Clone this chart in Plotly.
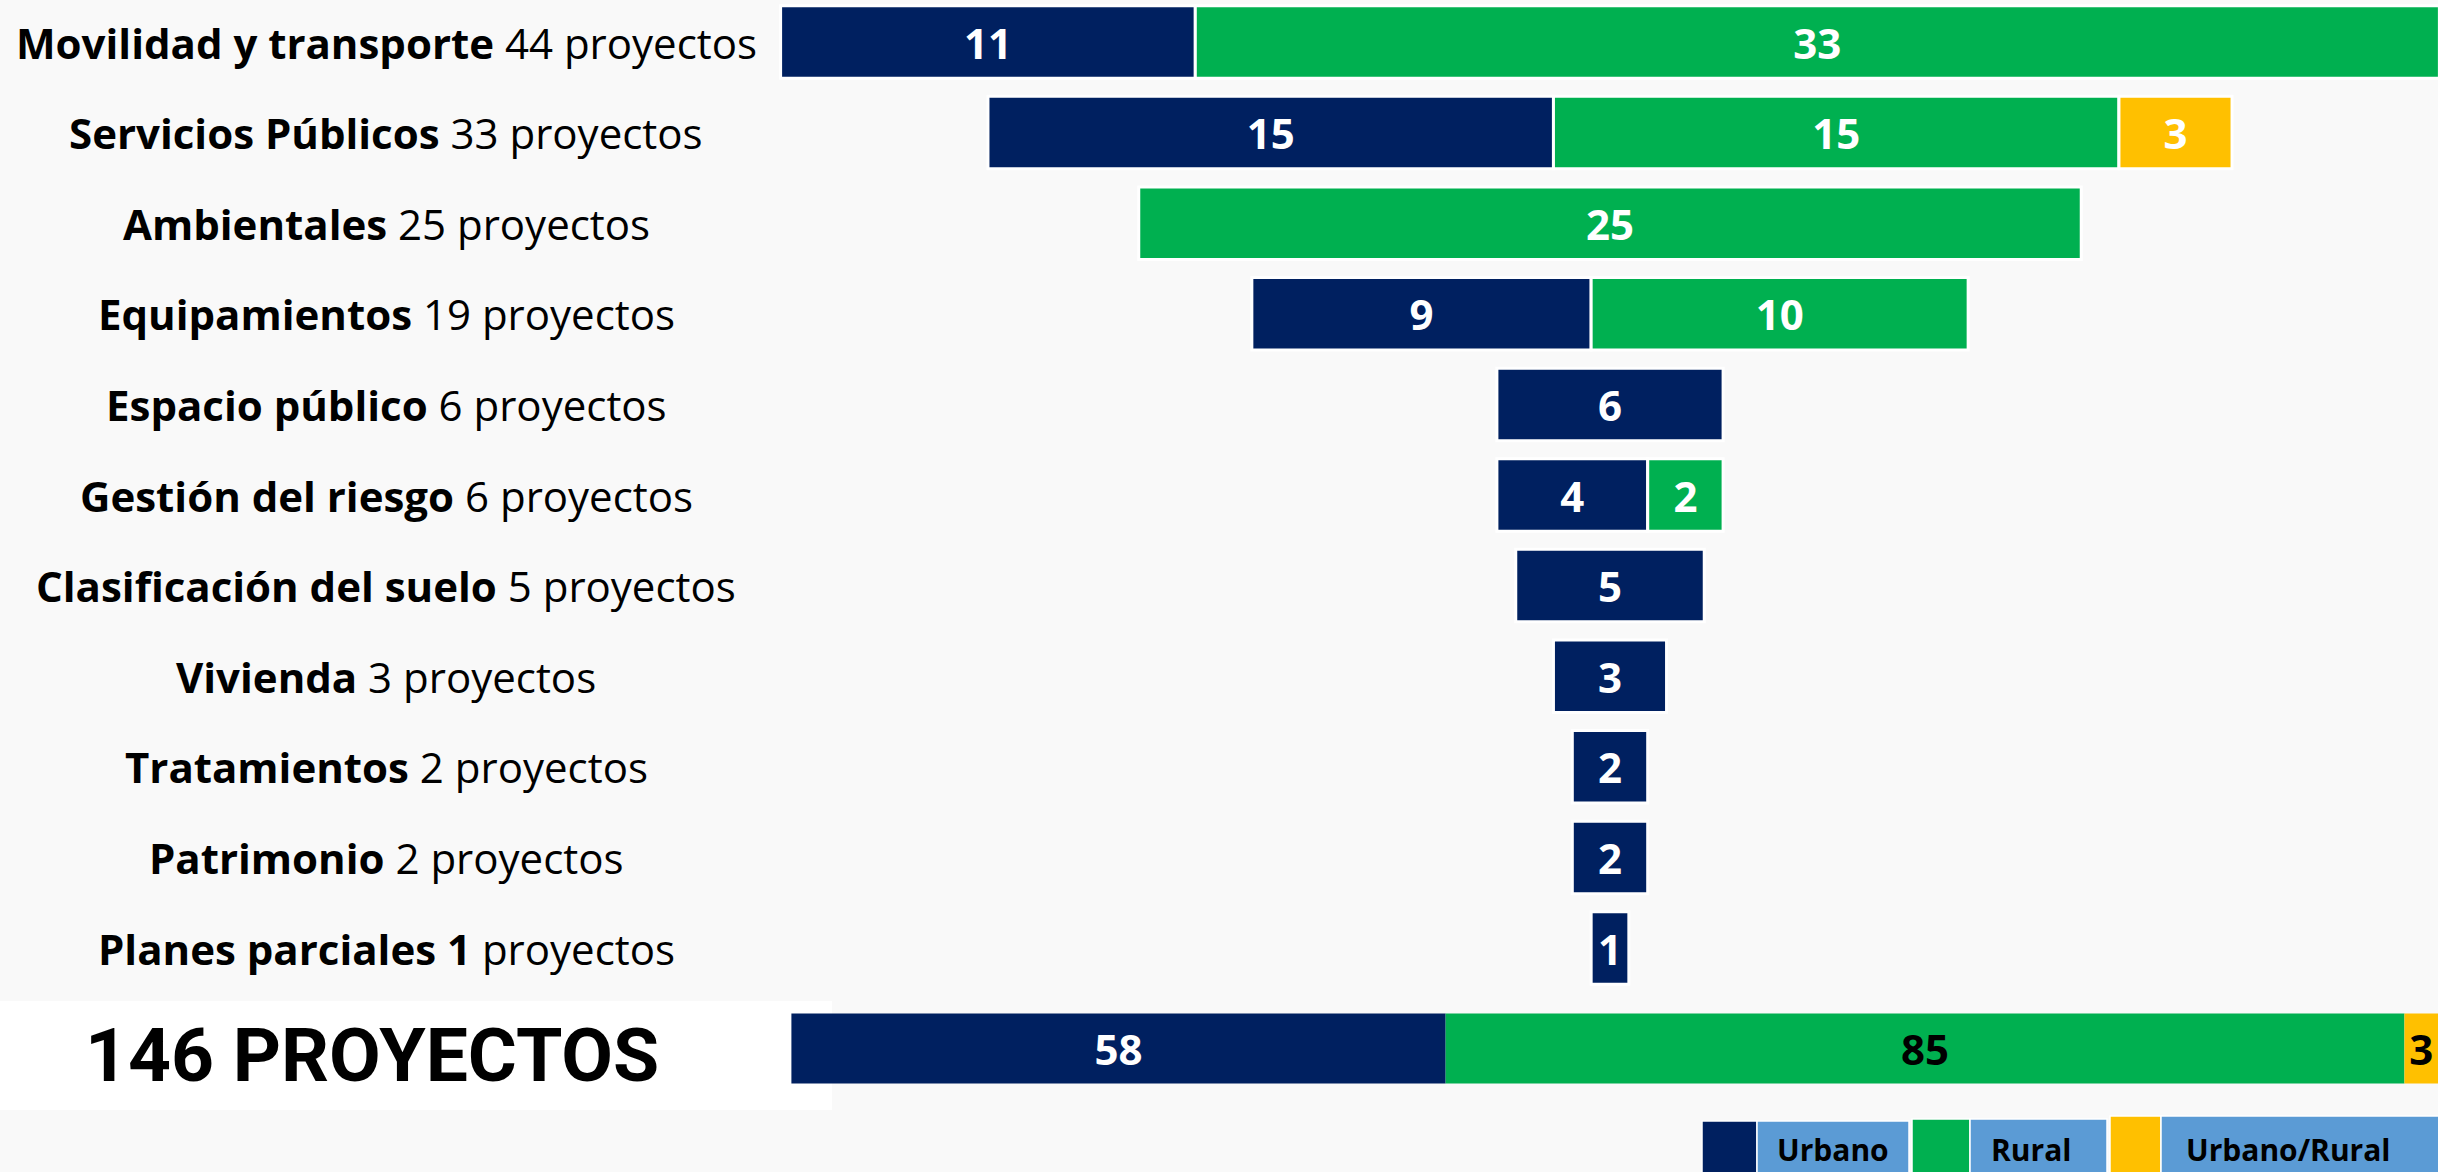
import plotly.graph_objects as go

# ---------------- data ----------------
categories = ["Movilidad y transporte", "Servicios Públicos", "Ambientales", "Equipamientos",
              "Espacio público", "Gestión del riesgo", "Clasificación del suelo", "Vivienda",
              "Tratamientos", "Patrimonio", "Planes parciales"]
urbano = [11, 15, 0, 9, 6, 4, 5, 3, 2, 2, 1]
rural = [33, 15, 25, 10, 0, 2, 0, 0, 0, 0, 0]
urbano_rural = [0, 3, 0, 0, 0, 0, 0, 0, 0, 0, 0]
count_in_bold = [False] * 10 + [True]
series_names = ["Urbano", "Rural", "Urbano/Rural"]
unit_word = "proyectos"
total_word = "PROYECTOS"

# ---------------- style ----------------
NAVY = "#002060"
GREEN = "#00B050"
YELLOW = "#FFC000"
LIGHTBLUE = "#5B9BD5"
BG = "#f9f9f9"
W, H = 2438, 1172
LABEL_FONT = "Open Sans"
NUM_FONT = "Open Sans"
BIG_FONT = "Roboto"
ROW0, ROWSTEP = 42.0, 90.6

series = [urbano, rural, urbano_rural]
colors = [NAVY, GREEN, YELLOW]
row_tot = [u + r + m for u, r, m in zip(urbano, rural, urbano_rural)]

fig = go.Figure()

# funnel rows (centered stacked bars)
cum = [-t / 2 for t in row_tot]
for name, vals, col in zip(series_names, series, colors):
    fig.add_trace(go.Bar(
        y=categories, x=[v if v else None for v in vals], base=list(cum),
        orientation="h", width=0.8, name=name,
        marker=dict(color=col, line=dict(color="white", width=3)),
        text=[str(v) if v else "" for v in vals], textposition="inside",
        insidetextanchor="middle", constraintext="none",
        textfont=dict(family=NUM_FONT, size=42, color="white", weight="bold"),
        hoverinfo="skip", xaxis="x", yaxis="y"))
    cum = [c + v for c, v in zip(cum, vals)]

# total row
totals = [sum(s) for s in series]
grand = sum(totals)
tcum = 0
for name, val, col, tcol in zip(series_names, totals, colors, ["white", "black", "black"]):
    fig.add_trace(go.Bar(
        y=["Total"], x=[val], base=[tcum], orientation="h", width=0.773,
        name=name, marker=dict(color=col, line=dict(width=0)),
        text=[str(val)], textposition="inside", insidetextanchor="middle",
        constraintext="none",
        textfont=dict(family=NUM_FONT, size=42, color=tcol, weight="bold"),
        hoverinfo="skip", xaxis="x2", yaxis="y2"))
    tcum += val

annotations = []
for cat, n, b in zip(categories, row_tot, count_in_bold):
    txt = f"<b>{cat} {n}</b> {unit_word}" if b else f"<b>{cat}</b> {n} {unit_word}"
    annotations.append(dict(x=386 / W, xref="paper", y=cat, yref="y", text=txt,
                            showarrow=False, xanchor="center", yanchor="middle",
                            font=dict(family=LABEL_FONT, size=42, color="black")))

annotations.append(dict(x=372 / W, xref="paper", y="Total", yref="y2",
                        text=f"<b>{grand} {total_word}</b>", showarrow=False,
                        xanchor="center", yanchor="middle", yshift=-6,
                        font=dict(family=BIG_FONT, size=75, color="black")))

shapes = [dict(type="rect", xref="paper", yref="paper", x0=0, x1=832 / W,
               y0=1 - 1110 / H, y1=1 - 1001 / H, fillcolor="white",
               line=dict(width=0), layer="below")]

# legend (bottom right)
leg = [(1702, 1757, 1121, NAVY), (1757, 1909, 1121, LIGHTBLUE),
       (1912, 1970, 1119, GREEN), (1970, 2107, 1119, LIGHTBLUE),
       (2110, 2161, 1116, YELLOW), (2161, 2440, 1116, LIGHTBLUE)]
for x0, x1, top, col in leg:
    shapes.append(dict(type="rect", xref="paper", yref="paper", x0=x0 / W, x1=x1 / W,
                       y0=-0.01, y1=1 - top / H, fillcolor=col,
                       line=dict(color="white", width=1.5), layer="above"))
for name, cx in zip(series_names, [1833, 2031, 2288]):
    annotations.append(dict(x=cx / W, xref="paper", y=1 - 1149 / H, yref="paper",
                            text=f"<b>{name}</b>", showarrow=False, xanchor="center",
                            yanchor="middle",
                            font=dict(family=NUM_FONT, size=30, color="black")))

fig.update_layout(
    width=W, height=H, margin=dict(l=0, r=0, t=0, b=0, pad=0),
    paper_bgcolor=BG, plot_bgcolor="rgba(0,0,0,0)", showlegend=False,
    barmode="overlay",
    xaxis=dict(range=[-1610 / 37.7, (W - 1610) / 37.7], visible=False,
               domain=[0, 1], anchor="y", fixedrange=True),
    yaxis=dict(type="category", categoryarray=categories,
               range=[(H - ROW0) / ROWSTEP, -ROW0 / ROWSTEP], visible=False,
               domain=[0, 1], anchor="x", fixedrange=True),
    xaxis2=dict(range=[-791.4 / 11.28, (W - 791.4) / 11.28], visible=False,
                domain=[0, 1], anchor="y2", fixedrange=True),
    yaxis2=dict(type="category", categoryarray=["Total"],
                range=[(H - 1048.5) / ROWSTEP, -1048.5 / ROWSTEP], visible=False,
                domain=[0, 1], anchor="x2", fixedrange=True),
    annotations=annotations, shapes=shapes,
)

fig.write_html("out.html", config={"displayModeBar": False},
               post_script="document.body.style.margin='0px';"
                           "document.body.style.overflow='hidden';")
